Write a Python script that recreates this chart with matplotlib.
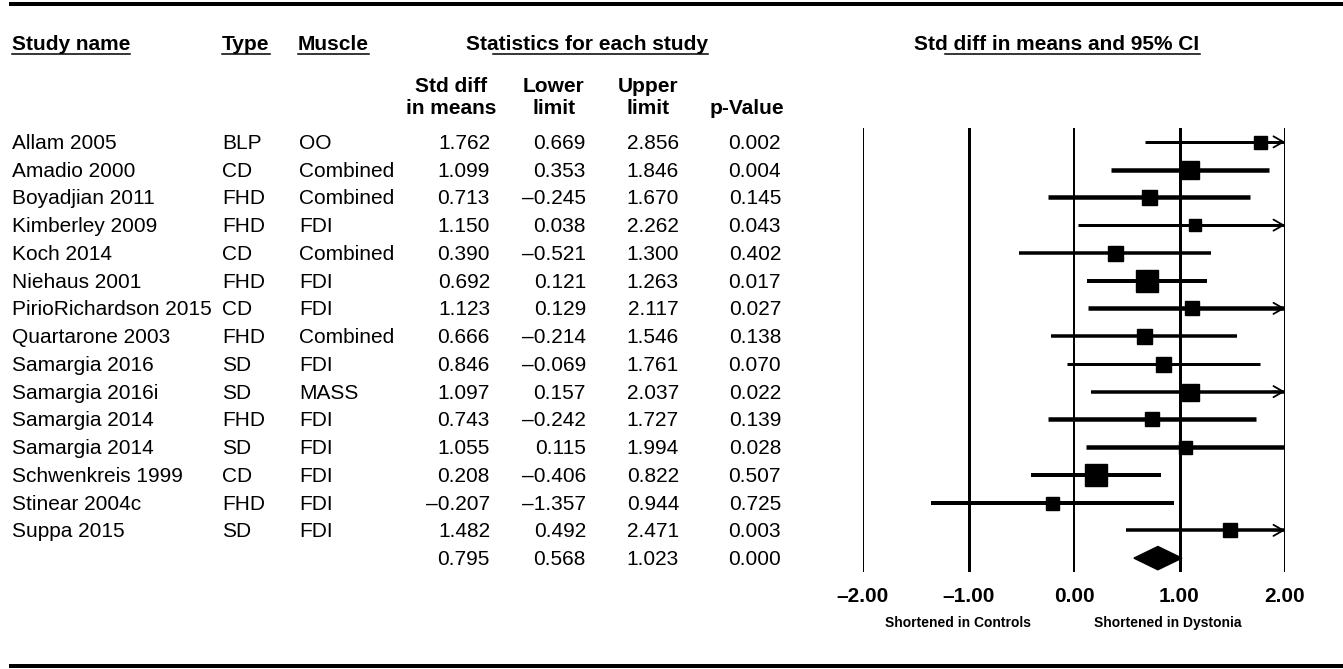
import matplotlib
matplotlib.use("Agg")
import matplotlib.pyplot as plt
from matplotlib.lines import Line2D
from matplotlib.patches import Polygon
from matplotlib import transforms

plt.rcParams['font.family'] = ['Liberation Sans', 'DejaVu Sans']

# ---- data ----
names = ["Allam 2005", "Amadio 2000", "Boyadjian 2011", "Kimberley 2009", "Koch 2014",
         "Niehaus 2001", "PirioRichardson 2015", "Quartarone 2003", "Samargia 2016",
         "Samargia 2016i", "Samargia 2014", "Samargia 2014", "Schwenkreis 1999",
         "Stinear 2004c", "Suppa 2015"]
types = ["BLP", "CD", "FHD", "FHD", "CD", "FHD", "CD", "FHD", "SD", "SD", "FHD", "SD",
         "CD", "FHD", "SD"]
muscles = ["OO", "Combined", "Combined", "FDI", "Combined", "FDI", "FDI", "Combined",
           "FDI", "MASS", "FDI", "FDI", "FDI", "FDI", "FDI"]
smd = [1.762, 1.099, 0.713, 1.150, 0.390, 0.692, 1.123, 0.666, 0.846, 1.097, 0.743,
       1.055, 0.208, -0.207, 1.482]
lower = [0.669, 0.353, -0.245, 0.038, -0.521, 0.121, 0.129, -0.214, -0.069, 0.157,
         -0.242, 0.115, -0.406, -1.357, 0.492]
upper = [2.856, 1.846, 1.670, 2.262, 1.300, 1.263, 2.117, 1.546, 1.761, 2.037, 1.727,
         1.994, 0.822, 0.944, 2.471]
pvals = [0.002, 0.004, 0.145, 0.043, 0.402, 0.017, 0.027, 0.138, 0.070, 0.022, 0.139,
         0.028, 0.507, 0.725, 0.003]
summary = [0.795, 0.568, 1.023, 0.000]
xticks = [-2, -1, 0, 1, 2]
xticklabels = ["\u20132.00", "\u20131.00", "0.00", "1.00", "2.00"]

# marker / line look (pixels), roughly following study weights
box_px = [13, 18, 15, 12, 15, 23, 14, 15, 15, 17, 14, 13, 22, 13, 14]
line_px = [3, 4.5, 4.5, 3, 3.5, 4, 4.5, 3.5, 3, 3.5, 4.5, 4.5, 4, 4, 3.5]

W, H = 1343, 669
PT = 72 / 100  # px -> pt at dpi 100


def fmt(v):
    return f"{v:.3f}".replace("-", "\u2013")


fig = plt.figure(figsize=(W / 100, H / 100), dpi=100)
top_px, bot_px = 128, 572
ax = fig.add_axes([863 / W, 1 - bot_px / H, 422 / W, (bot_px - top_px) / H])
n = len(names)
ax.set_xlim(-2, 2)
ax.set_ylim(n + 0.5, -0.5)
for s in ax.spines.values():
    s.set_visible(False)
ax.set_yticks([])
ax.set_xticks(xticks)
ax.set_xticklabels(xticklabels, fontsize=15, fontweight='bold')
ax.tick_params(axis='x', length=0, pad=11)

for xv, w in zip(xticks, [2, 3, 2, 3, 2]):
    ax.axvline(xv, color='black', lw=w * PT, zorder=1)

for i in range(n):
    lo, hi = max(lower[i], -2), min(upper[i], 2)
    ax.plot([lo, hi], [i, i], color='black', lw=line_px[i] * PT, solid_capstyle='butt', zorder=2)
    ax.plot(smd[i], i, marker='s', color='black', markersize=box_px[i] * PT, zorder=3)
    if upper[i] > 2:
        ax.annotate('', xy=(2, i), xytext=(1.88, i),
                    arrowprops=dict(arrowstyle='->,head_length=0.7,head_width=0.4',
                                    lw=1.3, color='black', shrinkA=0, shrinkB=0))

est, lo, hi = summary[0], summary[1], summary[2]
h = 0.42
ax.add_patch(Polygon([(lo, n), (est, n - h), (hi, n), (est, n + h)], closed=True,
                     color='black', zorder=3))

# ---- table on the left ----
base = transforms.blended_transform_factory(fig.transFigure, ax.transData)
row_tr = transforms.offset_copy(base, fig=fig, x=0, y=-7, units='dots')
fs = 15
for i in range(n):
    fig.text(12 / W, i, names[i], transform=row_tr, fontsize=fs, va='baseline')
    fig.text(222 / W, i, types[i], transform=row_tr, fontsize=fs, va='baseline')
    fig.text(299 / W, i, muscles[i], transform=row_tr, fontsize=fs, va='baseline')
    for xr, v in zip([490, 586, 679, 781], [smd[i], lower[i], upper[i], pvals[i]]):
        fig.text(xr / W, i, fmt(v), transform=row_tr, fontsize=fs, va='baseline', ha='right')
for xr, v in zip([490, 586, 679, 781], summary):
    fig.text(xr / W, n, fmt(v), transform=row_tr, fontsize=fs, va='baseline', ha='right')


def ftext(x, y, s, **kw):
    return fig.text(x / W, 1 - y / H, s, fontsize=fs, fontweight='bold', va='baseline', **kw)


heads = [ftext(12, 50, "Study name"), ftext(222, 50, "Type"), ftext(298, 50, "Muscle"),
         ftext(587, 50, "Statistics for each study", ha='center'),
         ftext(1057, 50, "Std diff in means and 95% CI", ha='center')]
starts = [0, 0, 0, 0.11, 0.107]
ftext(451, 92, "Std diff", ha='center')
ftext(451, 114, "in means", ha='center')
ftext(554, 92, "Lower", ha='center')
ftext(554, 114, "limit", ha='center')
ftext(648, 92, "Upper", ha='center')
ftext(648, 114, "limit", ha='center')
ftext(747, 114, "p-Value", ha='center')

fig.text(ax.transData.transform((-1.1, 0))[0] / W, 1 - 627 / H, "Shortened in Controls",
         fontsize=10, fontweight='bold', ha='center', va='baseline')
fig.text(ax.transData.transform((0.89, 0))[0] / W, 1 - 627 / H, "Shortened in Dystonia",
         fontsize=10, fontweight='bold', ha='center', va='baseline')

fig.canvas.draw()
r = fig.canvas.get_renderer()
for t, f in zip(heads, starts):
    bb = t.get_window_extent(r)
    x0 = bb.x0 + f * bb.width
    yy = 1 - 54 / H
    fig.add_artist(Line2D([x0 / W, bb.x1 / W], [yy, yy], color='black', lw=1.1))

for yy in [4, 666]:
    fig.add_artist(Line2D([11 / W, 1], [1 - yy / H, 1 - yy / H], color='black', lw=4 * PT))

fig.savefig("out.png", dpi=100)
